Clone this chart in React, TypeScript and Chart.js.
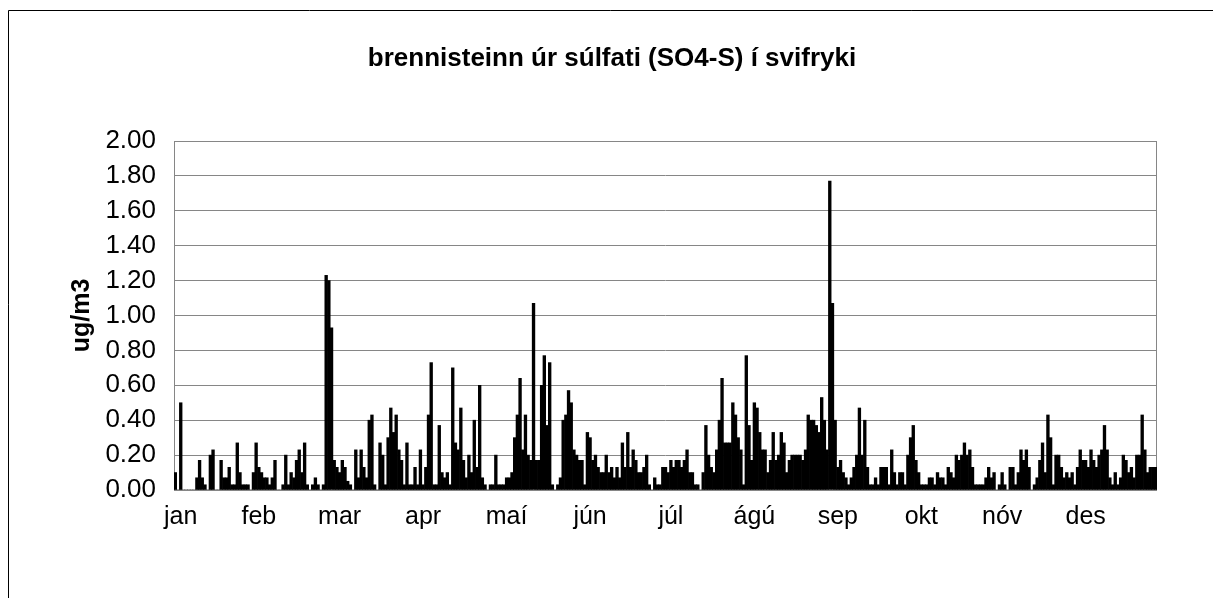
import React, { useEffect, useRef } from "react";
import { Chart, registerables } from "chart.js";

Chart.register(...registerables);

const FONT = "'Liberation Sans', Arial, sans-serif";

// Daily values (ug/m3), one array per month
const jan = [0.10, 0, 0.50, 0, 0, 0, 0, 0, 0.07, 0.17, 0.07, 0.03, 0, 0.20, 0.23, 0, 0, 0.17, 0.07, 0.07, 0.13, 0.03, 0.03, 0.27, 0.10, 0.03, 0.03, 0.03, 0, 0.10, 0.27];
const feb = [0.13, 0.10, 0.07, 0.07, 0.03, 0.07, 0.17, 0, 0, 0.03, 0.20, 0.03, 0.10, 0.07, 0.17, 0.23, 0.10, 0.27, 0.03, 0, 0.03, 0.07, 0.03, 0, 0.03, 1.23, 1.20, 0.93];
const mar = [0.17, 0.13, 0.10, 0.17, 0.13, 0.05, 0.03, 0, 0.23, 0.07, 0.23, 0.13, 0.07, 0.40, 0.43, 0.03, 0, 0.27, 0.20, 0.03, 0.30, 0.47, 0.33, 0.43, 0.23, 0.17, 0.03, 0.27, 0.03, 0.03, 0.13];
const apr = [0.03, 0.23, 0.03, 0.13, 0.43, 0.73, 0.03, 0.03, 0.37, 0.10, 0.07, 0.10, 0.03, 0.70, 0.27, 0.23, 0.47, 0.17, 0.07, 0.20, 0.10, 0.40, 0.13, 0.60, 0.07, 0.03, 0, 0.03, 0.03, 0.20];
const mai = [0.03, 0.03, 0.03, 0.07, 0.07, 0.10, 0.30, 0.43, 0.64, 0.23, 0.43, 0.20, 0.17, 1.07, 0.17, 0.17, 0.60, 0.77, 0.37, 0.73, 0.03, 0, 0.03, 0.07, 0.40, 0.43, 0.57, 0.50, 0.23, 0.20, 0.17];
const jun = [0.17, 0.03, 0.33, 0.30, 0.17, 0.20, 0.13, 0.10, 0.10, 0.20, 0.10, 0.13, 0.07, 0.13, 0.07, 0.27, 0.13, 0.33, 0.13, 0.23, 0.17, 0.10, 0.10, 0.13, 0.20, 0.03, 0, 0.07, 0.03, 0.03];
const jul = [0.13, 0.13, 0.10, 0.17, 0.13, 0.17, 0.17, 0.13, 0.17, 0.23, 0.10, 0.10, 0.03, 0.03, 0, 0.10, 0.37, 0.20, 0.13, 0.10, 0.23, 0.40, 0.64, 0.27, 0.27, 0.27, 0.50, 0.43, 0.30, 0.23, 0.03];
const agu = [0.77, 0.37, 0.17, 0.50, 0.47, 0.33, 0.23, 0.23, 0.10, 0.17, 0.33, 0.17, 0.20, 0.33, 0.27, 0.10, 0.17, 0.20, 0.20, 0.20, 0.20, 0.17, 0.23, 0.43, 0.40, 0.40, 0.37, 0.33, 0.53, 0.40, 0.23];
const sep = [1.77, 1.07, 0.40, 0.13, 0.17, 0.10, 0.07, 0.03, 0.07, 0.13, 0.20, 0.47, 0.20, 0.40, 0.13, 0.03, 0.03, 0.07, 0.03, 0.13, 0.13, 0.13, 0.03, 0.23, 0.10, 0.03, 0.10, 0.10, 0.03, 0.20];
const okt = [0.30, 0.37, 0.17, 0.10, 0.03, 0.03, 0.03, 0.07, 0.07, 0.03, 0.10, 0.07, 0.07, 0.03, 0.13, 0.10, 0.07, 0.20, 0.17, 0.20, 0.27, 0.20, 0.23, 0.13, 0.03, 0.03, 0.03, 0.03, 0.07, 0.13, 0.07];
const nov = [0.10, 0, 0.03, 0.10, 0.03, 0, 0.13, 0.13, 0.03, 0.10, 0.23, 0.17, 0.23, 0.13, 0, 0.03, 0.07, 0.17, 0.27, 0.10, 0.43, 0.30, 0.03, 0.20, 0.20, 0.13, 0.07, 0.10, 0.07, 0.10];
const des = [0.03, 0.13, 0.23, 0.17, 0.17, 0.13, 0.23, 0.17, 0.13, 0.20, 0.23, 0.37, 0.23, 0.07, 0.03, 0.10, 0.03, 0.07, 0.20, 0.17, 0.10, 0.13, 0.07, 0.20, 0.20, 0.43, 0.23, 0.10, 0.13, 0.13, 0.13];

const monthNames = ["jan", "feb", "mar", "apr", "maí", "jún", "júl", "ágú", "sep", "okt", "nóv", "des"];
const monthLabelDay = [2, 31, 61, 92, 123, 154, 184, 215, 246, 277, 307, 338];

const TITLE = "brennisteinn úr súlfati (SO4-S) í svifryki";
const Y_TITLE = "ug/m3";

const values = [...jan, ...feb, ...mar, ...apr, ...mai, ...jun, ...jul, ...agu, ...sep, ...okt, ...nov, ...des];
const dayLabels = values.map((_, i) => {
  const k = monthLabelDay.indexOf(i);
  return k >= 0 ? monthNames[k] : "";
});

const framePlugin = {
  id: "frame",
  beforeDraw(chart: any) {
    const ctx = chart.ctx;
    ctx.save();
    ctx.fillStyle = "#ffffff";
    ctx.fillRect(0, 0, chart.width, chart.height);
    ctx.strokeStyle = "#000000";
    ctx.lineWidth = 1;
    ctx.beginPath();
    ctx.moveTo(8.5, chart.height);
    ctx.lineTo(8.5, 10.5);
    ctx.lineTo(chart.width, 10.5);
    ctx.stroke();
    ctx.restore();
  },
  beforeDatasetsDraw(chart: any) {
    const { left, top, right, bottom } = chart.chartArea;
    const ctx = chart.ctx;
    ctx.save();
    ctx.strokeStyle = "#868686";
    ctx.lineWidth = 1;
    ctx.strokeRect(Math.round(left) + 0.5, Math.round(top) + 0.5, Math.round(right - left) - 1, Math.round(bottom - top));
    ctx.restore();
  },
};

export default function App() {
  const ref = useRef<HTMLCanvasElement | null>(null);

  useEffect(() => {
    if (!ref.current) return;
    const chart = new Chart(ref.current, {
      type: "bar",
      data: {
        labels: dayLabels,
        datasets: [
          {
            data: values,
            backgroundColor: "#000000",
            borderWidth: 0,
            barPercentage: 1,
            categoryPercentage: 1,
          },
        ],
      },
      options: {
        animation: false,
        responsive: false,
        layout: { padding: { left: 67, right: 56, top: 0, bottom: 0 } },
        plugins: {
          legend: { display: false },
          tooltip: { enabled: false },
          title: {
            display: true,
            text: TITLE,
            color: "#000000",
            font: { family: FONT, size: 26, weight: "bold" },
            padding: { top: 43, bottom: 66.8 },
          },
        },
        scales: {
          x: {
            type: "category",
            grid: { display: false, drawTicks: false },
            border: { display: false },
            ticks: {
              autoSkip: false,
              maxRotation: 0,
              minRotation: 0,
              padding: 12,
              color: "#000000",
              font: { family: FONT, size: 25 },
            },
            afterFit(s: any) {
              s.height = 108;
            },
          },
          y: {
            min: 0,
            max: 2,
            ticks: {
              stepSize: 0.2,
              padding: 18,
              color: "#000000",
              font: { family: FONT, size: 26 },
              callback: (v: any) => Number(v).toFixed(2),
            },
            grid: { color: "#868686", drawTicks: false },
            border: { display: false },
            title: {
              display: true,
              text: Y_TITLE,
              color: "#000000",
              font: { family: FONT, size: 25, weight: "bold" },
              padding: 0,
            },
            afterFit(s: any) {
              s.width = 107;
            },
          },
        },
      },
      plugins: [framePlugin],
    } as any);
    return () => chart.destroy();
  }, []);

  return (
    <div style={{ width: 1213, height: 598, overflow: "hidden" }}>
      <style>{"body{margin:0;overflow:hidden;background:#fff}"}</style>
      <canvas ref={ref} width={1213} height={598} style={{ display: "block" }} />
    </div>
  );
}
